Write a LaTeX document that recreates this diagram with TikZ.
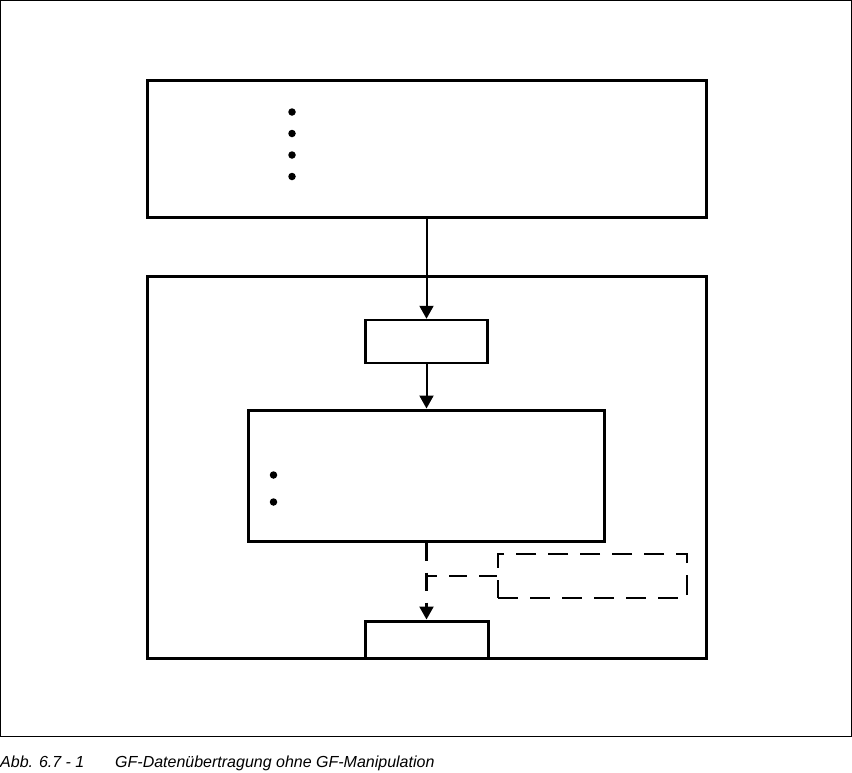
\documentclass[tikz,border=0pt]{standalone}
\usepackage{fontspec}
\setmainfont{Liberation Sans}
\usepackage{tikz}
\usetikzlibrary{arrows.meta, positioning}

\begin{document}
\begin{tikzpicture}[box/.style={draw, rectangle, line width=3pt, inner sep=0pt},
    dot/.style={circle, fill, inner sep=0pt, minimum size=7.5pt},
    flow/.style={draw, line width=2pt, -{Triangle[length=13pt, width=14pt]}},
    dashline/.style={draw, line width=2.2pt, dash pattern=on 18pt off 12pt},
    caption/.style={anchor=base west, inner sep=0pt, font=\fontsize{16}{19}\selectfont\itshape}]

    \useasboundingbox (0pt, 0pt) rectangle (852pt, -772pt);
    \draw[line width=1pt] (0.5pt, -0.5pt) rectangle (851pt, -736.5pt);

    \node at (426.5pt, -148.5pt) (Src) [box, minimum width=559pt, minimum height=137pt] {};
    \node at (426.5pt, -467pt) (Unit) [box, minimum width=559pt, minimum height=382pt] {};

    \node at (426.5pt, -341.5pt) (In) [box, line width=2.5pt, minimum width=122pt, minimum height=43pt] {};
    \node at (426.5pt, -475.5pt) (Proc) [box, minimum width=356pt, minimum height=131pt] {};
    \node at (426.5pt, -639.5pt) (Out) [box, minimum width=123pt, minimum height=37pt] {};
    \node at (592.5pt, -576pt) (Manip) [box, line width=2.2pt, dash pattern=on 20pt off 12pt, minimum width=189pt, minimum height=44pt] {};

    \node at (292pt, -112pt) (s1) [dot] {}; % list in source
    \node at (292pt, -133.5pt) (s2) [dot] {};
    \node at (292pt, -155pt) (s3) [dot] {};
    \node at (292pt, -176.5pt) (s4) [dot] {};
    \node at (273.5pt, -475pt) (p1) [dot] {}; % list in processing
    \node at (273.5pt, -502pt) (p2) [dot] {};

    \path[flow] (Src) -- (In);
    \path[flow] (In) -- (Proc);
    \path[flow, dashline] (Proc) -- (Out);
    \path[dashline] (Manip.west) -- (Manip.west -| Proc.south);

    \node at (0pt, -767pt) (AbbNr) [caption] {Abb. 6.7 - 1};
    \node at (115pt, -767pt) (AbbText) [caption] {GF-Datenübertragung ohne GF-Manipulation};

\end{tikzpicture}
\end{document}
